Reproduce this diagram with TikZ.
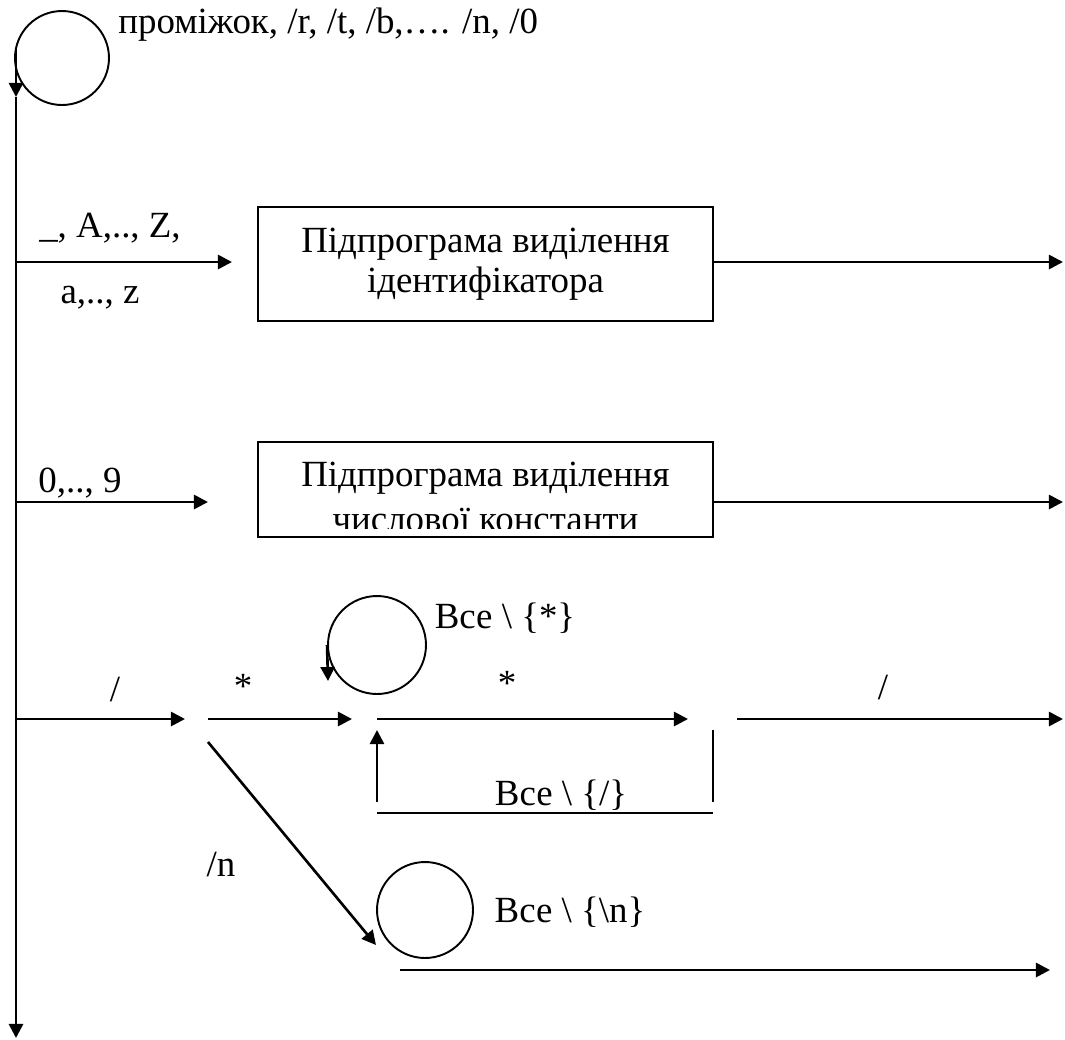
\documentclass[tikz,border=0pt]{standalone}
\usepackage{fontspec}
\setmainfont{Liberation Serif}
\usetikzlibrary{arrows.meta, positioning, calc}

\begin{document}
\begin{tikzpicture}[
    x=0.02cm, y=-0.02cm,
    every node/.style={font=\fontsize{21}{23}\selectfont},
    box/.style={draw, line width=1.4pt, minimum width=9.1cm, inner sep=0pt, align=center},
    loopc/.style={draw, circle, line width=1.1pt, minimum size=1.88cm, inner sep=0pt},
    arr/.style={-{Triangle[length=8pt, width=8pt]}, line width=1.5pt},
    ln/.style={line width=1.5pt},
    lbl/.style={inner sep=0pt}
]

\def\yA{262}
\def\yB{502}
\def\yC{719}
\def\yD{970}

\useasboundingbox (0,0) rectangle (1065,1039);

% main line with the skip loop
\coordinate (top) at (16,48);
\coordinate (loopAin) at (16,97);
\coordinate (bottom) at (16,1038);
\node[loopc] (loopA) at (62,58) {};
\node[lbl, anchor=west] (loopAlbl) at (118,25) {проміжок, /r, /t, /b,…. /n, /0};
\draw[arr] (top) -- (loopAin);
\draw[arr] (loopAin) -- (bottom);

% identifiers
\coordinate (rAs) at (16,\yA);
\coordinate (rAe) at (232,\yA);
\coordinate (outA) at (1063,\yA);
\node[box, minimum height=2.28cm] (ident) at (485.5,264) {Підпрограма виділення\\ідентифікатора};
\node[lbl] (lblAu) at (110,228) {\_, A,.., Z,};
\node[lbl] (lblAd) at (100,298) {a,.., z};
\draw[arr] (rAs) -- (rAe);
\draw[arr] (ident.east |- outA) -- (outA);

% numbers
\coordinate (rBs) at (16,\yB);
\coordinate (rBe) at (208,\yB);
\coordinate (outB) at (1063,\yB);
\node[box, minimum height=1.9cm] (numc) at (485.5,489.5) {};
\node[lbl, anchor=base] (numcA) at (485.5,486) {Підпрограма виділення};
\begin{scope}
  \clip ($(numc.south west)+(0,-10)$) rectangle (numc.north east);
  \node[lbl, anchor=base] (numcB) at (485.5,531) {числової константи};
\end{scope}
\node[lbl] (lblB) at (80,483) {0,.., 9};
\draw[arr] (rBs) -- (rBe);
\draw[arr] (numc.east |- outB) -- (outB);

% comments
\coordinate (rCs) at (16,\yC);
\coordinate (sA) at (185,\yC);
\coordinate (sAo) at (208,\yC);
\coordinate (sB) at (352,\yC);
\coordinate (sBo) at (377,\yC);
\coordinate (sC) at (688,\yC);
\coordinate (sCo) at (737,\yC);
\coordinate (outC) at (1063,\yC);
\draw[arr] (rCs) -- (sA);
\draw[arr] (sAo) -- (sB);
\draw[arr] (sBo) -- (sC);
\draw[arr] (sCo) -- (outC);
\node[lbl] (slashA) at (115,690) {/};
\node[lbl] (starA) at (243,686) {*};
\node[lbl] (starB) at (507,683) {*};
\node[lbl] (slashB) at (883,688) {/};

\node[loopc, minimum size=1.96cm] (loopB) at (377,645) {};
\coordinate (loopBin) at (328,681);
\draw[arr] (loopB.west) -- (loopBin);
\node[lbl] (allStar) at (505,618) {Все \textbackslash\ \{*\}};

\coordinate (backS) at (377,802);
\coordinate (backE) at (377,730);
\coordinate (retA) at (713,730);
\coordinate (retB) at (713,802);
\coordinate (baseL) at (377,813);
\coordinate (baseR) at (713,813);
\draw[arr] (backS) -- (backE);
\draw[ln] (retA) -- (retB);
\draw[ln] (baseL) -- (baseR);
\node[lbl] (allSlash) at (561,795) {Все \textbackslash\ \{/\}};

% line comments
\coordinate (nlS) at (208,742);
\coordinate (nlE) at (376,945);
\draw[arr] (nlS) -- (nlE);
\node[lbl] (lblN) at (221,865) {/n};
\node[loopc, minimum size=1.92cm] (loopD) at (425,910) {};
\node[lbl] (allNl) at (570,912) {Все \textbackslash\ \{\textbackslash n\}};
\coordinate (rDs) at (400,\yD);
\coordinate (rDe) at (1050,\yD);
\draw[arr] (rDs) -- (rDe);

\end{tikzpicture}
\end{document}
